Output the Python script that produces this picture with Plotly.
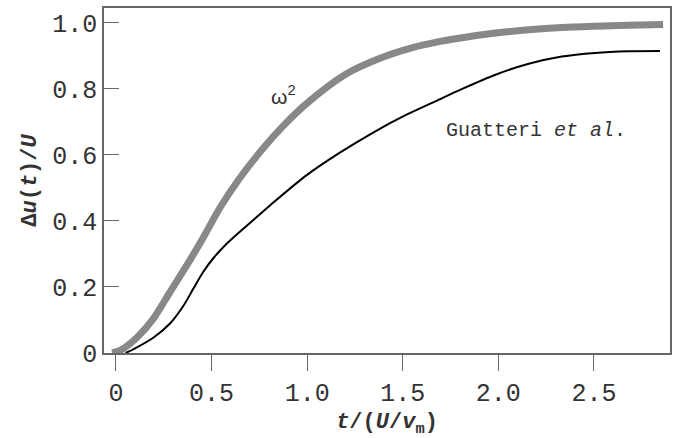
import plotly.graph_objects as go

# omega^2 slip function
t_omega2 = [-0.02, 0.023, 0.11, 0.197, 0.284, 0.371, 0.457, 0.544, 0.648, 0.77,
            0.87, 0.996, 1.204, 1.378, 1.551, 1.69, 1.811, 1.985, 2.159, 2.332,
            2.506, 2.68, 2.862]
u_omega2 = [0.0, 0.008, 0.047, 0.105, 0.186, 0.266, 0.35, 0.44, 0.53, 0.62,
            0.685, 0.755, 0.845, 0.892, 0.925, 0.943, 0.955, 0.969, 0.979, 0.986,
            0.99, 0.993, 0.995]

# Guatteri et al. slip function
t_guat = [0.05, 0.093, 0.197, 0.284, 0.353, 0.405, 0.457, 0.509, 0.579, 0.683,
          0.753, 0.822, 0.996, 1.169, 1.343, 1.517, 1.673, 1.811, 1.985, 2.159,
          2.332, 2.506, 2.68, 2.845]
u_guat = [0.0, 0.012, 0.047, 0.09, 0.143, 0.195, 0.246, 0.287, 0.331, 0.385,
          0.42, 0.455, 0.538, 0.606, 0.667, 0.721, 0.763, 0.8, 0.843, 0.876,
          0.898, 0.909, 0.914, 0.915]

x_tickvals = [0, 0.5, 1.0, 1.5, 2.0, 2.5]
x_ticktext = ["0", "0.5", "1.0", "1.5", "2.0", "2.5"]
y_tickvals = [0, 0.2, 0.4, 0.6, 0.8, 1.0]
y_ticktext = ["0", "0.2", "0.4", "0.6", "0.8", "1.0"]

MONO = "Liberation Mono, Courier New, monospace"
TXT = "#333333"
AX = "#666666"

fig = go.Figure()
fig.add_trace(go.Scatter(x=t_omega2, y=u_omega2, mode="lines",
                         line=dict(color="#888888", width=7, shape="spline", smoothing=0.8),
                         showlegend=False, hoverinfo="skip"))
fig.add_trace(go.Scatter(x=t_guat, y=u_guat, mode="lines",
                         line=dict(color="#000000", width=2, shape="spline", smoothing=0.8),
                         showlegend=False, hoverinfo="skip"))

fig.add_annotation(x=0.878, y=0.783, xref="x", yref="y", text="\u03c9<sup>2</sup>",
                   showarrow=False, font=dict(family="Liberation Sans, Arial", size=21, color=TXT))
fig.add_annotation(x=1.716, y=0.675, xref="x", yref="y", text="Guatteri <i>et al</i>.",
                   showarrow=False, xanchor="left",
                   font=dict(family=MONO, size=20, color=TXT))

fig.update_layout(
    width=678, height=438,
    margin=dict(l=104, r=6, t=8, b=79),
    paper_bgcolor="white", plot_bgcolor="white",
    font=dict(family=MONO, color=TXT),
)
fig.update_xaxes(
    range=[-0.0625, 2.898], tickvals=x_tickvals, ticktext=x_ticktext,
    ticks="outside", ticklen=16, tickwidth=1.2, tickcolor=AX,
    showline=True, linecolor=AX, linewidth=1.5, mirror=True,
    showgrid=False, zeroline=False,
    tickfont=dict(family=MONO, size=25, color=TXT),
    title=dict(text="<b><i>t</i>/(<i>U</i>/<i>v</i><sub>m</sub>)</b>",
               font=dict(family=MONO, size=22, color=TXT), standoff=8),
)
fig.update_yaxes(
    range=[0, 1.045], tickvals=y_tickvals, ticktext=y_ticktext,
    ticks="inside", ticklen=15, tickwidth=1.2, tickcolor=AX,
    showline=True, linecolor=AX, linewidth=1.5, mirror=True,
    showgrid=False, zeroline=False,
    tickfont=dict(family=MONO, size=25, color=TXT),
    title=dict(text="<b>\u0394<i>u</i>(<i>t</i>)/<i>U</i></b>",
               font=dict(family=MONO, size=22, color=TXT), standoff=10),
)

fig.write_html("out.html")
